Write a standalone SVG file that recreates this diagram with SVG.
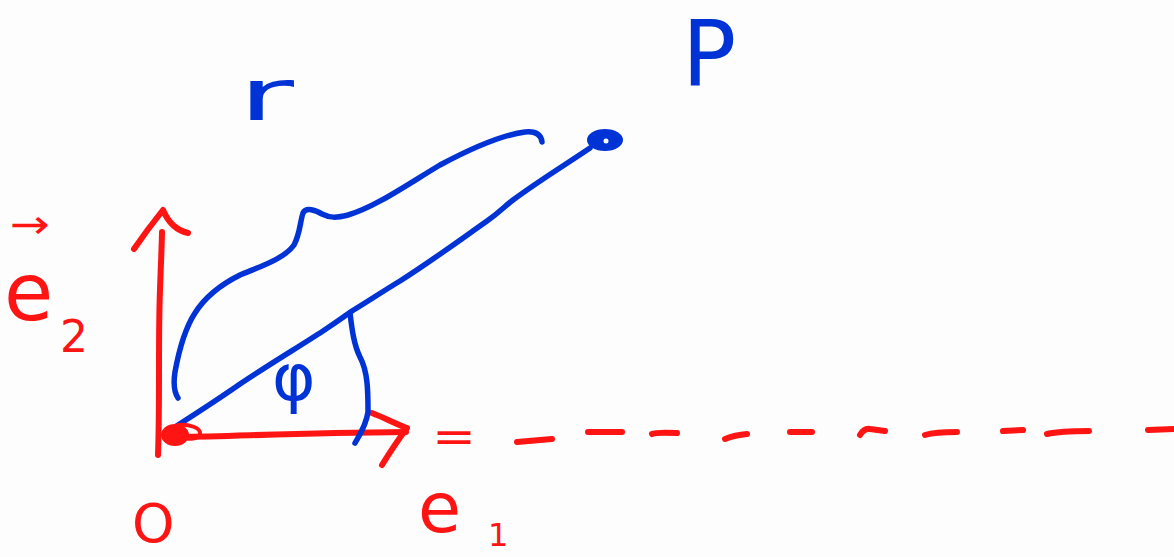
<svg xmlns="http://www.w3.org/2000/svg" width="1174" height="557" viewBox="0 0 1174 557">
<style>
.r{fill:none;stroke:#ff1414;stroke-width:6;stroke-linecap:round;stroke-linejoin:round}
.b{fill:none;stroke:#0033d6;stroke-width:5.5;stroke-linecap:round;stroke-linejoin:round}
.tr{fill:#ff1414;font-family:"DejaVu Sans",sans-serif}
.tb{fill:#0033d6;font-family:"DejaVu Sans",sans-serif}
</style>
<rect width="1174" height="557" fill="#fdfdfd"/>
<g id="connectors">
  <g id="axis-e2">
    <path class="r" d="M158,455 C160,400 158,340 160,290 C161,260 162,240 162,232"/>
    <path class="r" d="M134,249 C145,233 155,220 163,210 C168,222 175,230 188,233"/>
  </g>
  <g id="axis-e1">
    <path class="r" d="M180,437 C240,436 300,433 406,432"/>
    <path class="r" d="M372,413 C385,418 396,424 407,428 C398,440 390,452 382,465"/>
  </g>
  <g id="extension" class="r">
    <path d="M517,442 L552,439"/>
    <path d="M588,432 L622,432"/>
    <path d="M652,434 Q656,432 677,433"/>
    <path d="M725,439 Q735,435 747,434"/>
    <path d="M790,432 L812,432"/>
    <path d="M860,435 Q864,428 870,429 L885,431"/>
    <path d="M925,435 Q935,432 957,432"/>
    <path d="M1003,431 L1023,430"/>
    <path d="M1047,434 Q1060,431 1089,431"/>
    <path d="M1148,430 L1174,429"/>
  </g>
  <g id="radius">
    <path class="b" d="M175,427 C200,411 220,398 240,384 C270,364 300,346 323,331 C335,323 345,316 352,311 C370,300 385,290 400,281 C430,262 460,240 487,221 C500,212 505,206 513,200 C540,180 565,165 590,148"/>
  </g>
  <g id="angle-arc">
    <path class="b" d="M350,313 C352,330 354,345 360,357 C368,372 368,392 368,412 C366,426 359,436 355,443"/>
  </g>
  <g id="brace">
    <path class="b" d="M178,398 C174,392 173,385 175,372 C179,350 184,330 195,313 C205,297 220,285 240,275 C262,266 285,258 294,245 C300,234 300,222 303,213 C306,207 315,210 322,214 C330,218 336,218 348,215 C375,207 405,186 440,165 C470,149 500,135 525,132 C535,131 541,134 542,142"/>
  </g>
</g>
<g id="node-O">
  <ellipse cx="175" cy="435" rx="14" ry="11" fill="#ff1414"/>
  <path class="r" d="M178,425 C190,424 200,428 200,433 C200,438 192,440 186,438" style="stroke-width:4"/>
  <text class="tr" x="132" y="542" font-size="54">O</text>
</g>
<g id="node-P">
  <ellipse cx="605" cy="140" rx="18" ry="11" fill="#0033d6"/>
  <circle cx="606" cy="141" r="2.5" fill="#fdfdfd"/>
  <text class="tb" x="682" y="86" font-size="90">P</text>
</g>
<g id="label-r">
  <text class="tb" x="238" y="120" font-size="72" textLength="56" lengthAdjust="spacingAndGlyphs">r</text>
</g>
<g id="label-phi">
  <text class="tb" x="272" y="400" font-size="66">φ</text>
</g>
<g id="label-e2">
  <text class="tr" x="10" y="238" font-size="40" textLength="40" lengthAdjust="spacingAndGlyphs">→</text>
  <text class="tr" x="4" y="320" font-size="80">e</text>
  <text class="tr" x="60" y="352" font-size="44">2</text>
</g>
<g id="label-e1">
  <text class="tr" x="432" y="452" font-size="44" textLength="44" lengthAdjust="spacingAndGlyphs">=</text>
  <text class="tr" x="418" y="532" font-size="70">e</text>
  <text class="tr" x="488" y="546" font-size="32">1</text>
</g>
</svg>
